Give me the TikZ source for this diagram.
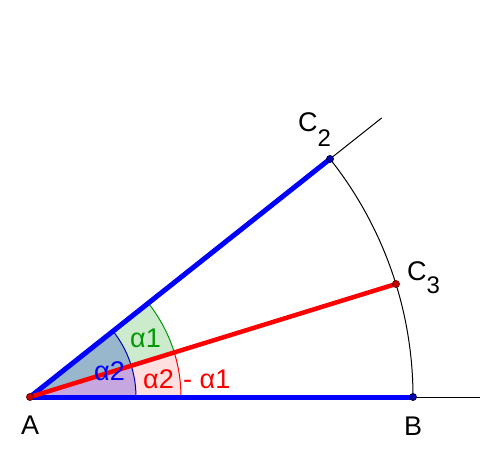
\documentclass[tikz,border=0pt]{standalone}
\usepackage{fontspec}
\setmainfont{Liberation Sans}
\definecolor{gblue}{RGB}{0,0,255}
\definecolor{gred}{RGB}{255,0,0}
\definecolor{ggreen}{RGB}{0,153,0}
\tikzset{
  thinline/.style={black,line width=1pt},
  thickblue/.style={gblue,line width=5pt},
  thickred/.style={gred,line width=4.5pt},
  ptblue/.style={circle,draw=black!70!gblue,fill=black!30!gblue,inner sep=0pt,minimum size=7pt,line width=0.8pt},
  ptred/.style={circle,draw=black!60!gred,fill=black!20!gred,inner sep=0pt,minimum size=7pt,line width=0.8pt},
  ptlabel/.style={font=\fontsize{27}{27}\selectfont,inner sep=0pt,anchor=base west},
  anglabel/.style={font=\fontsize{27}{27}\selectfont,inner sep=0pt,anchor=base west},
}
\newcommand{\lowsub}[2]{\raisebox{-#1pt}{\fontsize{24}{24}\selectfont #2}}
\begin{document}
\begin{tikzpicture}[x=1pt,y=1pt]
\useasboundingbox[fill=white] (0,0) rectangle (500,455);
\def\aC{38.43}
\def\aD{17.16}
\def\R{383}
\coordinate (A) at (30,58);
\coordinate (B) at (413,58);
\coordinate (C2) at ([shift={(\aC:\R)}]A);
\coordinate (C3) at ([shift={(\aD:\R)}]A);
\coordinate (Rend) at ([shift={(\aC:449)}]A);
\coordinate (Bend) at (480,58);
% sectors
\fill[gblue,fill opacity=0.25] (A) -- ++(0:106) arc[start angle=0,end angle=\aC,radius=106] -- cycle;
\fill[gred,fill opacity=0.12] (A) -- ++(0:151) arc[start angle=0,end angle=\aD,radius=151] -- cycle;
\fill[ggreen,fill opacity=0.2] (A) -- ++(\aD:151) arc[start angle=\aD,end angle=\aC,radius=151] -- cycle;
\draw[gred,line width=1pt] ([shift={(0:151)}]A) arc[start angle=0,end angle=\aD,radius=151];
\draw[ggreen,line width=1pt] ([shift={(\aD:151)}]A) arc[start angle=\aD,end angle=\aC,radius=151];
\draw[gblue!70!black,line width=1pt] ([shift={(0:106)}]A) arc[start angle=0,end angle=\aC,radius=106];
% thin lines
\draw[thinline] (C2) -- (Rend);
\draw[thinline] (B) -- (Bend);
\draw[thinline] (B) arc[start angle=0,end angle=\aC,radius=\R];
% thick segments
\draw[thickblue] (A) -- (B);
\draw[thickblue] (A) -- (C2);
\draw[thickred] (A) -- (C3);
% points
\node[ptred] (pA) at (A) {};
\node[ptblue] (pB) at (B) {};
\node[ptblue] (pC2) at (C2) {};
\node[ptred] (pC3) at (C3) {};
% labels
\node[ptlabel] (lA) at (21,21) {A};
\node[ptlabel] (lB) at (404,20) {B};
\node[ptlabel] (lC2) at (298,323) {C\lowsub{15}{2}};
\node[ptlabel] (lC3) at (407,174) {C\lowsub{13}{3}};
\node[anglabel,text=ggreen] (a1) at (130,107) {α1};
\node[anglabel,text=gblue] (a2) at (94,75) {α2};
\node[anglabel,text=gred] (a3) at (143,67) {α2};
\node[anglabel,text=gred] (a4) at (183,67) {- α1};
\end{tikzpicture}
\end{document}
